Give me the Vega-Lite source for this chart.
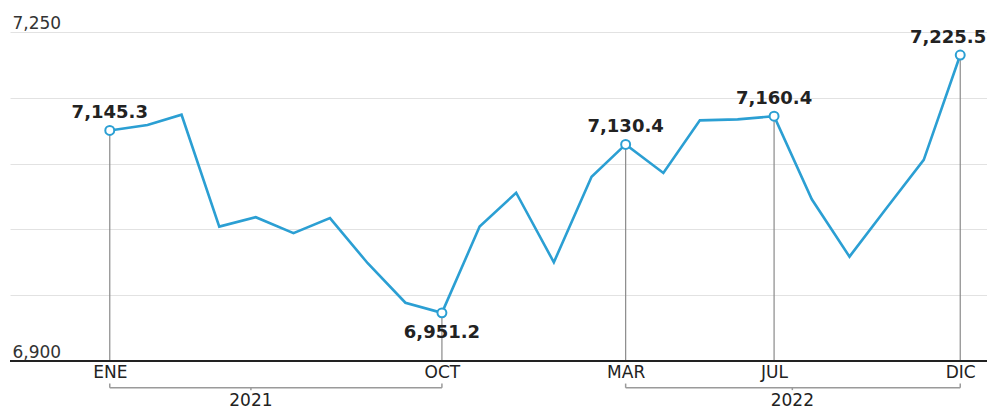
{
  "$schema": "https://vega.github.io/schema/vega-lite/v6.json",
  "width": 977,
  "height": 329,
  "autosize": {"type": "none"},
  "padding": {"left": 10, "top": 32, "right": 0, "bottom": 49},
  "background": "white",
  "config": {
    "view": {"stroke": null},
    "font": "DejaVu Sans"
  },
  "datasets": {
    "serie": [
      {"mes": "2021-01-01T00:00:00", "valor": 7145.3, "destacado": true},
      {"mes": "2021-02-01T00:00:00", "valor": 7151.0, "destacado": false},
      {"mes": "2021-03-01T00:00:00", "valor": 7162.0, "destacado": false},
      {"mes": "2021-04-01T00:00:00", "valor": 7043.0, "destacado": false},
      {"mes": "2021-05-01T00:00:00", "valor": 7053.0, "destacado": false},
      {"mes": "2021-06-01T00:00:00", "valor": 7036.0, "destacado": false},
      {"mes": "2021-07-01T00:00:00", "valor": 7052.0, "destacado": false},
      {"mes": "2021-08-01T00:00:00", "valor": 7004.0, "destacado": false},
      {"mes": "2021-09-01T00:00:00", "valor": 6962.0, "destacado": false},
      {"mes": "2021-10-01T00:00:00", "valor": 6951.2, "destacado": true},
      {"mes": "2021-11-01T00:00:00", "valor": 7043.0, "destacado": false},
      {"mes": "2021-12-01T00:00:00", "valor": 7079.0, "destacado": false},
      {"mes": "2022-01-01T00:00:00", "valor": 7005.0, "destacado": false},
      {"mes": "2022-02-01T00:00:00", "valor": 7096.0, "destacado": false},
      {"mes": "2022-03-01T00:00:00", "valor": 7130.4, "destacado": true},
      {"mes": "2022-04-01T00:00:00", "valor": 7100.0, "destacado": false},
      {"mes": "2022-05-01T00:00:00", "valor": 7156.0, "destacado": false},
      {"mes": "2022-06-01T00:00:00", "valor": 7157.0, "destacado": false},
      {"mes": "2022-07-01T00:00:00", "valor": 7160.4, "destacado": true},
      {"mes": "2022-08-01T00:00:00", "valor": 7072.0, "destacado": false},
      {"mes": "2022-09-01T00:00:00", "valor": 7011.0, "destacado": false},
      {"mes": "2022-10-01T00:00:00", "valor": 7062.0, "destacado": false},
      {"mes": "2022-11-01T00:00:00", "valor": 7114.0, "destacado": false},
      {"mes": "2022-12-01T00:00:00", "valor": 7225.5, "destacado": true}
    ],
    "anios": [
      {"anio": "2021", "inicio": "2021-01-01T00:00:00", "fin": "2021-10-01T00:00:00", "centro": "2021-04-27T00:00:00"},
      {"anio": "2022", "inicio": "2022-03-01T00:00:00", "fin": "2022-12-01T00:00:00", "centro": "2022-07-16T00:00:00"}
    ]
  },
  "layer": [
    {
      "data": {"name": "serie"},
      "mark": {"type": "line", "color": "#2b9fd3", "strokeWidth": 2.6},
      "encoding": {
        "x": {
          "field": "mes",
          "type": "temporal",
          "scale": {"domain": [{"year": 2020, "month": 10, "date": 11}, {"year": 2022, "month": 12, "date": 23}]},
          "axis": {
            "title": null,
            "grid": false,
            "domain": false,
            "ticks": false,
            "values": [
              {"year": 2021, "month": 1, "date": 1},
              {"year": 2021, "month": 10, "date": 1},
              {"year": 2022, "month": 3, "date": 1},
              {"year": 2022, "month": 7, "date": 1},
              {"year": 2022, "month": 12, "date": 1}
            ],
            "labelExpr": "['ENE','FEB','MAR','ABR','MAY','JUN','JUL','AGO','SEP','OCT','NOV','DIC'][month(datum.value)]",
            "labelFont": "DejaVu Sans",
            "labelFontSize": 17,
            "labelColor": "#222",
            "labelPadding": 3,
            "labelFlush": false,
            "labelOverlap": false
          }
        },
        "y": {
          "field": "valor",
          "type": "quantitative",
          "scale": {"domain": [6900, 7250], "nice": false, "zero": false},
          "axis": {
            "title": null,
            "domain": false,
            "ticks": false,
            "tickSize": 0,
            "values": [6900, 6970, 7040, 7110, 7180, 7250],
            "grid": true,
            "gridColor": "#e2e2e2",
            "gridWidth": 1,
            "labelExpr": "(datum.value == 7250 || datum.value == 6900) ? format(datum.value, ',') : ''",
            "labelAlign": "left",
            "labelBaseline": "alphabetic",
            "labelPadding": -2,
            "labelOffset": -4,
            "labelFont": "DejaVu Sans",
            "labelFontSize": 17,
            "labelColor": "#333"
          }
        }
      }
    },
    {
      "data": {"name": "serie"},
      "transform": [{"filter": "datum.destacado"}],
      "mark": {"type": "rule", "color": "#8a8a8a", "strokeWidth": 1.2},
      "encoding": {
        "x": {"field": "mes", "type": "temporal"},
        "y": {"field": "valor", "type": "quantitative"},
        "y2": {"datum": 6900}
      }
    },
    {
      "data": {"name": "serie"},
      "mark": {"type": "rule", "color": "#222", "strokeWidth": 2},
      "encoding": {"y": {"datum": 6900}}
    },
    {
      "data": {"name": "serie"},
      "transform": [{"filter": "datum.destacado"}],
      "mark": {"type": "point", "filled": true, "fill": "white", "stroke": "#2b9fd3", "strokeWidth": 2, "size": 80, "opacity": 1},
      "encoding": {
        "x": {"field": "mes", "type": "temporal"},
        "y": {"field": "valor", "type": "quantitative"}
      }
    },
    {
      "data": {"name": "serie"},
      "transform": [{"filter": "datum.destacado && datum.valor > 7000 && datum.valor < 7200"}],
      "mark": {"type": "text", "font": "DejaVu Sans", "fontWeight": "bold", "fontSize": 18, "color": "#222", "baseline": "alphabetic", "dy": -12},
      "encoding": {
        "x": {"field": "mes", "type": "temporal"},
        "y": {"field": "valor", "type": "quantitative"},
        "text": {"field": "valor", "type": "quantitative", "format": ",.1f"}
      }
    },
    {
      "data": {"name": "serie"},
      "transform": [{"filter": "datum.destacado && datum.valor >= 7200"}],
      "mark": {"type": "text", "font": "DejaVu Sans", "fontWeight": "bold", "fontSize": 18, "color": "#222", "baseline": "alphabetic", "align": "right", "dx": 26, "dy": -12},
      "encoding": {
        "x": {"field": "mes", "type": "temporal"},
        "y": {"field": "valor", "type": "quantitative"},
        "text": {"field": "valor", "type": "quantitative", "format": ",.1f"}
      }
    },
    {
      "data": {"name": "serie"},
      "transform": [{"filter": "datum.destacado && datum.valor < 7000"}],
      "mark": {"type": "text", "font": "DejaVu Sans", "fontWeight": "bold", "fontSize": 18, "color": "#222", "baseline": "alphabetic", "dy": 25},
      "encoding": {
        "x": {"field": "mes", "type": "temporal"},
        "y": {"field": "valor", "type": "quantitative"},
        "text": {"field": "valor", "type": "quantitative", "format": ",.1f"}
      }
    },
    {
      "data": {"name": "anios"},
      "mark": {"type": "rule", "color": "#9a9a9a", "strokeWidth": 1.5},
      "encoding": {
        "x": {"field": "inicio", "type": "temporal"},
        "x2": {"field": "fin"},
        "y": {"datum": 6871.5}
      }
    },
    {
      "data": {"name": "anios"},
      "mark": {"type": "rule", "color": "#9a9a9a", "strokeWidth": 1.5},
      "encoding": {
        "x": {"field": "inicio", "type": "temporal"},
        "y": {"datum": 6871.5},
        "y2": {"datum": 6876}
      }
    },
    {
      "data": {"name": "anios"},
      "mark": {"type": "rule", "color": "#9a9a9a", "strokeWidth": 1.5},
      "encoding": {
        "x": {"field": "fin", "type": "temporal"},
        "y": {"datum": 6871.5},
        "y2": {"datum": 6876}
      }
    },
    {
      "data": {"name": "anios"},
      "mark": {"type": "rule", "color": "#9a9a9a", "strokeWidth": 1.5},
      "encoding": {
        "x": {"field": "centro", "type": "temporal"},
        "y": {"datum": 6871.5},
        "y2": {"datum": 6869}
      }
    },
    {
      "data": {"name": "anios"},
      "mark": {"type": "text", "font": "DejaVu Sans", "fontSize": 17, "color": "#222", "baseline": "middle"},
      "encoding": {
        "x": {"field": "centro", "type": "temporal"},
        "y": {"datum": 6857},
        "text": {"field": "anio"}
      }
    }
  ]
}
